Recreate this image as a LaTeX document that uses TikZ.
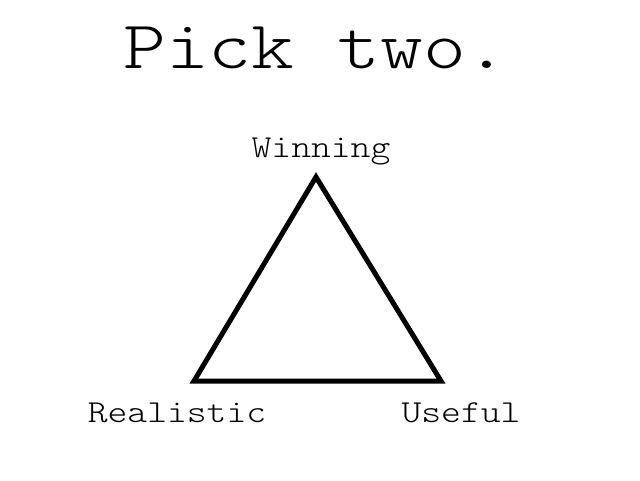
\documentclass[tikz,border=0pt]{standalone}
\usepackage{graphicx}
\usepackage{fontspec}
\setmonofont{lmmonolt10-regular}[Extension=.otf]
\newcommand{\stretchtxt}[2]{\scalebox{#1}[1]{#2}}
\begin{document}
\begin{tikzpicture}[x=1pt,y=-1pt,
  lbl/.style={font=\ttfamily\fontsize{32}{36}\selectfont, anchor=base, inner sep=0pt},
  ttl/.style={font=\ttfamily\fontsize{68}{74}\selectfont, anchor=base, inner sep=0pt},
  edge/.style={line width=5pt, line join=miter}]
\useasboundingbox[fill=white] (0,0) rectangle (640,480);
\node[ttl] (title) at (316,68) {\stretchtxt{1.2}{Pick two.}};
\coordinate (top) at (316,177);
\coordinate (bl) at (194,381);
\coordinate (br) at (441,381);
\draw[edge] (top) -- (bl) -- (br) -- cycle;
\node[lbl] (win) at (321,157.5) {\stretchtxt{1.18}{Winning}};
\node[lbl] (real) at (177,422) {\stretchtxt{1.18}{Realistic}};
\node[lbl] (use) at (461,422) {\stretchtxt{1.18}{Useful}};
\end{tikzpicture}
\end{document}
